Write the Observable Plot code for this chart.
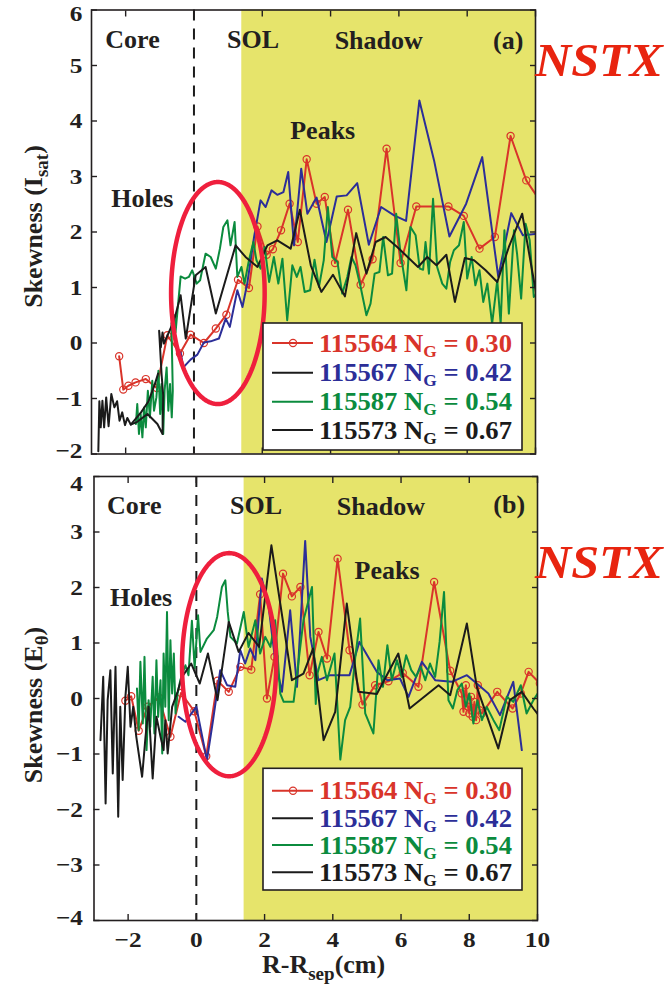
<!DOCTYPE html>
<html>
<head>
<meta charset="utf-8">
<script src="https://cdn.jsdelivr.net/npm/d3@7"></script>
<script src="https://cdn.jsdelivr.net/npm/@observablehq/plot@0.6"></script>
<style>
  html, body { margin: 0; padding: 0; background: #ffffff; }
  body { width: 667px; height: 985px; position: relative; overflow: hidden; font-family: "Liberation Serif", serif; }
  #panelA, #panelB { position: absolute; left: 0; }
  #panelA { top: 0; }
  #panelB { top: 466px; }
</style>
</head>
<body>
<div id="panelA"></div>
<div id="panelB"></div>
<script>
// ---------------- DATA ----------------
const xTicks = [-2, 0, 2, 4, 6, 8, 10];
const yTicksA = [-2, -1, 0, 1, 2, 3, 4, 5, 6];
const yTicksB = [-4, -3, -2, -1, 0, 1, 2, 3, 4];
const xDomain = [-3, 10];
const yDomainA = [-2, 6];
const yDomainB = [-4, 4];
const separatrix = 0;
const shadowStart = 1.4;

const shotIds = ["115564", "115567", "115587", "115573"];
const greenwaldFractions = ["0.30", "0.42", "0.54", "0.67"];

// Panel (a): skewness of I_sat  — [R-Rsep (cm), skewness]
const s115564_a = [[-2.19,-0.24],[-2.07,-0.84],[-1.92,-0.77],[-1.71,-0.71],[-1.41,-0.65],[-1.09,-0.81],[-0.78,0.14],[-0.41,-0.19],[-0.10,0.15],[0.29,0.00],[0.64,0.26],[0.95,0.51],[1.29,1.14],[1.61,0.99],[1.86,2.10],[2.13,1.59],[2.31,1.69],[2.55,2.03],[2.80,2.51],[3.04,1.82],[3.30,3.31],[3.59,2.51],[3.83,2.63],[4.13,1.44],[4.51,2.40],[4.88,1.05],[5.23,1.51],[5.64,3.50],[6.05,1.44],[6.51,2.46],[7.45,2.46],[7.90,2.29],[8.36,1.70],[8.81,1.91],[9.27,3.73],[9.73,2.93],[10.2,2.50]];
const s115567_a = [[-0.39,-0.17],[-0.31,-0.44],[-0.10,-0.30],[0.10,-0.21],[0.29,0.01],[0.49,0.03],[0.73,0.08],[0.93,0.44],[1.05,0.29],[1.27,0.95],[1.42,0.65],[1.56,1.07],[1.76,1.91],[1.95,2.57],[2.10,2.45],[2.27,2.75],[2.44,2.67],[2.62,2.72],[2.76,3.08],[2.93,1.76],[3.14,3.14],[3.32,2.33],[3.59,2.62],[3.88,1.82],[4.18,2.64],[4.47,2.66],[4.78,2.88],[5.12,1.77],[5.48,2.45],[5.86,2.30],[6.21,2.20],[6.60,4.37],[7.03,3.29],[7.48,1.92],[7.97,2.51],[8.44,3.35],[8.91,1.19],[9.29,2.34],[9.63,1.94],[10.06,1.97]];
const s115587_a = [[-1.70,-1.46],[-1.66,-1.10],[-1.61,-1.64],[-1.56,-1.28],[-1.51,-1.70],[-1.46,-1.16],[-1.41,-1.52],[-1.35,-0.86],[-1.29,-1.34],[-1.22,-0.68],[-1.17,-1.22],[-1.10,-0.98],[-1.04,-0.50],[-0.99,-1.28],[-0.95,-0.74],[-0.90,-1.64],[-0.86,-0.86],[-0.80,-0.44],[-0.75,-1.22],[-0.70,-0.74],[-0.65,-1.34],[-0.62,-0.86],[-0.66,0.35],[-0.58,0.50],[-0.54,0.19],[-0.39,1.20],[-0.26,1.16],[-0.15,1.19],[-0.05,1.31],[0.08,1.07],[0.18,1.13],[0.34,1.61],[0.49,1.55],[0.64,1.34],[0.76,1.70],[0.86,2.09],[0.98,2.21],[1.07,1.76],[1.19,2.18],[1.27,1.19],[1.39,1.37],[1.48,1.07],[1.61,1.49],[1.74,1.82],[1.83,1.49],[1.95,1.34],[2.07,1.73],[2.20,1.10],[2.34,1.55],[2.47,1.07],[2.59,1.52],[2.73,0.41],[2.88,1.40],[3.01,1.19],[3.12,1.37],[3.24,0.92],[3.40,0.95],[3.53,1.50],[3.66,1.01],[3.80,1.49],[3.92,2.45],[4.05,1.55],[4.20,1.46],[4.34,0.89],[4.49,1.19],[4.61,1.55],[4.73,1.40],[4.88,1.01],[5.05,0.50],[5.17,0.71],[5.29,1.25],[5.43,1.28],[5.54,1.91],[5.68,1.22],[5.80,1.25],[5.92,2.33],[6.05,1.61],[6.22,0.95],[6.34,2.09],[6.49,1.94],[6.61,1.34],[6.71,1.32],[6.78,1.82],[6.88,1.25],[7.00,2.60],[7.12,1.37],[7.27,1.07],[7.39,0.98],[7.50,1.46],[7.61,1.67],[7.76,1.76],[7.90,2.18],[8.00,1.16],[8.13,1.55],[8.24,1.04],[8.36,1.31],[8.47,0.74],[8.59,1.07],[8.73,0.35],[8.88,1.13],[8.98,0.35],[9.09,2.03],[9.22,0.53],[9.37,2.03],[9.46,1.61],[9.58,0.80],[9.71,2.15],[9.83,1.85],[9.95,0.83],[10.05,0.90]];
const s115573_a = [[-2.80,-1.95],[-2.77,-1.05],[-2.73,-1.52],[-2.68,-1.04],[-2.63,-1.52],[-2.57,-0.98],[-2.50,-1.50],[-2.42,-0.92],[-2.33,-1.16],[-2.25,-1.05],[-2.18,-1.40],[-2.10,-1.25],[-2.02,-1.48],[-1.95,-1.35],[-1.85,-1.47],[-1.66,-1.42],[-1.36,-1.28],[-1.07,-1.46],[-0.92,-1.64],[-0.90,-0.95],[-0.95,-0.55],[-1.02,0.22],[-0.97,-0.08],[-0.92,0.19],[-0.88,-0.01],[-0.58,0.41],[-0.39,0.86],[-0.24,0.08],[0.05,1.22],[0.34,1.37],[0.64,0.53],[1.22,1.76],[1.51,1.55],[1.86,1.37],[2.15,1.76],[2.44,1.85],[2.83,1.70],[3.10,2.40],[3.42,1.40],[3.73,0.92],[4.07,1.23],[4.42,0.84],[4.75,1.98],[5.05,1.25],[5.32,1.82],[5.61,1.91],[5.95,1.73],[6.56,1.37],[6.83,1.55],[7.10,1.40],[7.39,1.59],[7.64,0.74],[7.93,1.53],[8.20,1.49],[8.54,1.31],[8.88,1.10],[9.22,1.73],[9.61,2.33],[9.95,1.13],[10.05,0.80]];
const s115573_a_sweep2 = [[-1.85,-1.47],[-1.55,-1.25],[-1.33,-1.05],[-1.15,-0.75],[-1.05,-0.55]];

// Panel (b): skewness of E_theta
const s115564_b = [[-2.08,-0.04],[-1.91,0.04],[-1.69,-0.58],[-1.43,-0.15],[-1.10,0.02],[-0.76,-0.69],[-0.45,0.10],[-0.06,-0.23],[0.29,-1.04],[0.62,0.32],[0.95,0.12],[1.29,0.57],[1.61,0.52],[1.87,1.88],[2.07,0.00],[2.29,0.75],[2.54,2.25],[2.80,1.84],[3.05,2.01],[3.32,0.42],[3.58,1.20],[3.83,0.72],[4.14,2.52],[4.49,0.87],[4.87,-0.11],[5.24,0.24],[5.63,0.31],[6.05,0.46],[6.51,0.21],[6.97,2.10],[7.44,0.50],[7.78,0.09],[7.83,-0.24],[7.90,0.24],[7.96,-0.15],[8.00,-0.27],[8.05,0.03],[8.10,-0.33],[8.15,-0.06],[8.20,-0.39],[8.25,0.24],[8.30,-0.21],[8.37,-0.27],[8.82,0.12],[9.27,-0.18],[9.51,0.09],[9.74,0.48],[10.07,0.27]];
const s115567_b = [[-0.52,-0.33],[-0.32,-0.42],[-0.18,-0.30],[0.00,-0.15],[0.31,-1.11],[0.49,-0.39],[0.70,0.51],[0.90,0.24],[1.14,0.21],[1.29,0.87],[1.43,0.63],[1.58,0.90],[1.73,0.69],[1.92,2.16],[2.12,1.65],[2.31,0.69],[2.51,0.12],[2.75,1.59],[2.95,0.21],[3.19,2.84],[3.34,1.11],[3.58,0.33],[3.92,0.42],[4.49,0.42],[4.78,1.02],[5.29,0.48],[5.60,0.33],[5.97,0.36],[6.22,0.03],[6.61,0.66],[7.00,0.33],[7.49,0.30],[7.93,0.42],[8.22,0.27],[8.56,0.09],[8.90,-0.30],[9.29,0.30],[9.54,-0.93]];
const s115587_b = [[-1.74,0.18],[-1.69,-0.57],[-1.64,0.66],[-1.57,-0.45],[-1.52,0.75],[-1.46,-0.93],[-1.40,-0.03],[-1.35,-0.51],[-1.28,0.39],[-1.23,-0.63],[-1.17,0.69],[-1.12,-0.33],[-1.05,0.33],[-1.00,-0.99],[-0.96,0.81],[-0.91,-0.15],[-0.86,1.56],[-0.81,-0.39],[-0.76,1.05],[-0.71,0.09],[-0.66,0.81],[-0.61,-0.27],[-0.55,0.09],[-0.47,0.33],[-0.32,0.60],[-0.23,0.42],[-0.13,1.40],[-0.05,0.55],[0.05,1.50],[0.12,0.84],[0.31,1.08],[0.51,1.23],[0.61,1.47],[0.75,2.01],[0.85,2.13],[0.92,1.56],[1.00,1.11],[1.19,0.99],[1.39,1.56],[1.53,0.93],[1.73,1.41],[1.87,0.81],[2.02,1.11],[2.17,0.93],[2.31,1.41],[2.46,0.09],[2.56,-0.06],[2.85,-0.06],[3.00,0.69],[3.14,1.41],[3.39,2.01],[3.50,-0.10],[3.55,0.45],[3.68,0.75],[3.83,0.33],[4.05,0.81],[4.22,-1.10],[4.36,-0.39],[4.51,-0.15],[4.66,0.75],[4.80,1.44],[4.95,-0.27],[5.19,-0.63],[5.34,0.69],[5.47,0.21],[5.60,0.96],[5.73,0.33],[5.88,0.69],[6.02,0.39],[6.15,0.78],[6.30,0.51],[6.44,0.39],[6.58,0.57],[6.71,0.33],[6.85,0.63],[7.00,0.39],[7.13,1.02],[7.26,1.92],[7.39,-0.03],[7.52,-0.18],[7.65,0.15],[7.78,0.27],[7.90,-0.15],[8.00,0.09],[8.12,-0.45],[8.24,-0.03],[8.37,-0.39],[8.51,-0.15],[8.71,-0.39],[8.88,-0.57],[9.10,0.03],[9.29,-0.06],[9.51,0.24],[9.68,-0.27],[9.88,-0.03],[10.07,0.15]];
const s115573_b = [[-2.81,-0.75],[-2.73,0.39],[-2.66,-1.89],[-2.60,-0.03],[-2.52,0.51],[-2.45,-1.35],[-2.37,0.57],[-2.29,-2.13],[-2.23,-0.15],[-2.16,-1.47],[-2.08,0.03],[-2.01,0.57],[-1.93,-0.51],[-1.85,-0.15],[-1.76,-0.69],[-1.69,-0.99],[-1.59,-1.41],[-1.49,-0.69],[-1.40,-0.15],[-1.28,-1.44],[-1.17,-0.33],[-1.05,-0.69],[-0.96,-0.93],[-0.91,-0.39],[-0.84,-0.99],[-0.71,-0.15],[-0.55,0.12],[-0.42,0.39],[-0.15,0.63],[0.10,0.27],[0.34,0.81],[0.62,-0.03],[0.95,1.38],[1.24,0.84],[1.53,1.18],[1.84,0.93],[2.20,2.76],[2.46,1.71],[2.80,0.33],[3.14,0.45],[3.42,0.90],[3.73,-0.75],[4.07,-0.24],[4.41,1.71],[4.75,0.12],[5.29,0.08],[5.92,0.81],[6.25,-0.18],[7.10,0.24],[7.44,0.06],[7.93,1.35],[8.22,0.21],[8.85,-0.90],[9.19,-0.03],[9.54,0.12],[9.88,-0.18],[10.07,-0.33]];

// Annotations (data coordinates)
const annotationsA = [
  {label: "Core", x: -1.80, y: 5.47}, {label: "SOL", x: 1.73, y: 5.47},
  {label: "Shadow", x: 5.41, y: 5.45}, {label: "(a)", x: 9.20, y: 5.45},
  {label: "Peaks", x: 3.77, y: 3.83}, {label: "Holes", x: -1.51, y: 2.60}
];
const annotationsB = [
  {label: "Core", x: -1.82, y: 3.48}, {label: "SOL", x: 1.75, y: 3.48},
  {label: "Shadow", x: 5.41, y: 3.45}, {label: "(b)", x: 9.17, y: 3.50},
  {label: "Peaks", x: 5.59, y: 2.31}, {label: "Holes", x: -1.62, y: 1.81}
];
// Highlight ellipses (centre and semi-axes, data units)
const ellipseA = {cx: 0.70, cy: 0.90, rx: 1.37, ry: 2.00};
const ellipseB = {cx: 0.96, cy: 0.61, rx: 1.38, ry: 2.01};

// ---------------- STYLE ----------------
const C = {
  red: "#d9342a", blue: "#2c2e98", green: "#0b8b3e", black: "#1b1b1b",
  shadow: "#e6e46b", ellipse: "#ef1f3d", nstx: "#e8240f", ink: "#231f20"
};
const seriesColors = [C.red, C.blue, C.green, C.black];
const legendSampleColors = [C.red, C.black, C.green, C.black];
const FONT = "Liberation Serif";
const intFormat = d3.format("d");

function ellipsePoints(e) {
  return d3.range(0, 181).map(i => {
    const t = (i / 180) * 2 * Math.PI;
    return [e.cx + e.rx * Math.cos(t), e.cy + e.ry * Math.sin(t)];
  });
}

function makePanel(cfg) {
  const X = d => d[0], Y = d => d[1];
  const shadowRect = [{x1: shadowStart, x2: xDomain[1], y1: cfg.yDomain[0], y2: cfg.yDomain[1]}];
  const marks = [
    Plot.rect(shadowRect, {x1: "x1", x2: "x2", y1: "y1", y2: "y2", fill: C.shadow}),
    Plot.ruleX([separatrix], {stroke: C.black, strokeWidth: 2, strokeDasharray: "11,8"}),
    Plot.line(cfg.s[0], {x: X, y: Y, stroke: C.red, strokeWidth: 2, clip: true}),
    Plot.dot(cfg.s[0], {x: X, y: Y, r: 3.6, stroke: C.red, strokeWidth: 1.2, fill: "none", clip: true}),
    Plot.line(cfg.s[1], {x: X, y: Y, stroke: C.blue, strokeWidth: 2, clip: true}),
    Plot.line(cfg.s[2], {x: X, y: Y, stroke: C.green, strokeWidth: 2, clip: true}),
    Plot.line(cfg.s[3], {x: X, y: Y, stroke: C.black, strokeWidth: 2, clip: true}),
    ...(cfg.extra || []).map(d => Plot.line(d, {x: X, y: Y, stroke: C.black, strokeWidth: 2, clip: true})),
    Plot.line(ellipsePoints(cfg.ellipse), {x: X, y: Y, stroke: C.ellipse, strokeWidth: 4.5}),
    Plot.text(cfg.ann, {x: "x", y: "y", text: "label", fontSize: 26, fontWeight: "bold", fill: C.ink, fontFamily: FONT}),
    Plot.frame({stroke: C.ink, strokeWidth: 1.6}),
    Plot.axisX(xTicks, {anchor: "bottom", tickSize: -6, tickFormat: () => "", label: null, strokeWidth: 1.4}),
    Plot.axisX(xTicks, {anchor: "top", tickSize: -6, tickFormat: () => "", label: null, strokeWidth: 1.4}),
    Plot.axisY(cfg.yTicks, {anchor: "left", tickSize: -6, tickFormat: () => "", label: null, strokeWidth: 1.4}),
    Plot.axisY(cfg.yTicks, {anchor: "right", tickSize: -6, tickFormat: () => "", label: null, strokeWidth: 1.4}),
    Plot.axisY(cfg.yTicks, {anchor: "left", tickSize: 0, tickPadding: cfg.yPad, tickFormat: intFormat, label: null, fontSize: 22, fontWeight: "bold", fill: C.ink})
  ];
  if (cfg.xLabels) {
    marks.push(Plot.axisX(xTicks, {anchor: "bottom", tickSize: 0, tickPadding: 11, tickFormat: intFormat, label: null, fontSize: 22, fontWeight: "bold", fill: C.ink}));
  }
  const svg = Plot.plot({
    width: 667, height: cfg.height,
    marginLeft: cfg.ml, marginRight: cfg.mr, marginTop: cfg.mt, marginBottom: cfg.mb,
    x: {domain: xDomain}, y: {domain: cfg.yDomain},
    style: {fontFamily: FONT, fontSize: "22px", fontWeight: "bold", color: C.ink, background: "transparent", overflow: "visible"},
    marks
  });
  // widen tick labels slightly to match the reference typeface; MATLAB pulls end labels inside the box
  const topLabel = intFormat(cfg.yTicks[cfg.yTicks.length - 1]);
  const bottomLabel = intFormat(cfg.yTicks[0]);
  svg.querySelectorAll('g[aria-label="y-axis tick label"] text').forEach(t => {
    const tr = t.getAttribute("transform");
    if (!tr) return;
    let shift = "";
    if (t.textContent === topLabel) shift = ` translate(0,${cfg.topNudge})`;
    else if (t.textContent === bottomLabel) shift = " translate(0,-3)";
    t.setAttribute("transform", tr + shift + " scale(1.15,1)");
  });
  svg.querySelectorAll('g[aria-label="x-axis tick label"] text').forEach(t => {
    const tr = t.getAttribute("transform");
    if (tr) t.setAttribute("transform", tr + " scale(1.15,1)");
  });
  return svg;
}

function addLegend(svg, L) {
  const g = d3.select(svg).append("g").attr("font-family", FONT).attr("font-weight", "bold")
    .attr("text-anchor", "start");
  g.append("rect").attr("x", L.x).attr("y", L.y).attr("width", L.w).attr("height", L.h)
    .attr("fill", "#ffffff").attr("stroke", C.ink).attr("stroke-width", 1.6);
  shotIds.forEach((id, i) => {
    const yy = L.rows[i];
    g.append("line").attr("x1", L.x + 9).attr("x2", L.x + 50).attr("y1", yy).attr("y2", yy)
      .attr("stroke", legendSampleColors[i]).attr("stroke-width", 2);
    if (i === 0) {
      g.append("circle").attr("cx", L.x + 30).attr("cy", yy).attr("r", 3.6)
        .attr("fill", "none").attr("stroke", C.red).attr("stroke-width", 1.2);
    }
    const t = g.append("text").attr("x", L.x + 56).attr("y", yy + 8.5)
      .attr("text-anchor", "start")
      .attr("fill", seriesColors[i]).attr("font-size", 26)
      .attr("textLength", 193).attr("lengthAdjust", "spacingAndGlyphs");
    t.append("tspan").text(id + " N");
    t.append("tspan").attr("font-size", 17).attr("dy", 5).text("G");
    t.append("tspan").attr("dy", -5).text(" = " + greenwaldFractions[i]);
  });
}

function addYLabel(svg, cx, cy, main, sub) {
  const t = d3.select(svg).append("text")
    .attr("transform", `translate(${cx},${cy}) rotate(-90)`)
    .attr("text-anchor", "middle").attr("font-family", FONT).attr("font-weight", "bold")
    .attr("font-size", 26).attr("fill", C.ink);
  t.append("tspan").text(main);
  t.append("tspan").attr("font-size", 19).attr("dy", 6).text(sub);
  t.append("tspan").attr("dy", -6).text(")");
}

function addNSTX(svg, x, y) {
  d3.select(svg).append("text").attr("x", x).attr("y", y)
    .attr("text-anchor", "start")
    .attr("font-family", FONT).attr("font-weight", "bold").attr("font-style", "italic")
    .attr("font-size", 46).attr("fill", C.nstx)
    .attr("textLength", 128).attr("lengthAdjust", "spacingAndGlyphs")
    .text("NSTX");
}

// ---------------- PANEL A ----------------
const svgA = makePanel({
  s: [s115564_a, s115567_a, s115587_a, s115573_a], extra: [s115573_a_sweep2],
  yDomain: yDomainA, yTicks: yTicksA, ann: annotationsA, ellipse: ellipseA,
  height: 462, ml: 91, mr: 132, mt: 9.5, mb: 8.5, yPad: 9, xLabels: false, topNudge: 4
});
addLegend(svgA, {x: 263, y: 323, w: 259, h: 127, rows: [343, 372.7, 401.7, 430]});
addYLabel(svgA, 42, 226.5, "Skewness (I", "sat");
addNSTX(svgA, 535, 76);
document.getElementById("panelA").appendChild(svgA);

// ---------------- PANEL B ----------------
const svgB = makePanel({
  s: [s115564_b, s115567_b, s115587_b, s115573_b], extra: [],
  yDomain: yDomainB, yTicks: yTicksB, ann: annotationsB, ellipse: ellipseB,
  height: 519, ml: 93.5, mr: 130, mt: 10, mb: 65, yPad: 11, xLabels: true, topNudge: 7
});
addLegend(svgB, {x: 263, y: 302.3, w: 259, h: 121.7, rows: [324.7, 352.3, 379, 406.3]});
addYLabel(svgB, 42, 239, "Skewness (E", "θ");
addNSTX(svgB, 535, 112.3);
{
  const t = d3.select(svgB).append("text").attr("x", 262).attr("y", 507)
    .attr("text-anchor", "start")
    .attr("font-family", FONT).attr("font-weight", "bold").attr("font-size", 26).attr("fill", C.ink);
  t.append("tspan").text("R-R");
  t.append("tspan").attr("font-size", 19).attr("dy", 7).text("sep");
  t.append("tspan").attr("dy", -7).text("(cm)");
}
document.getElementById("panelB").appendChild(svgB);
</script>
</body>
</html>
